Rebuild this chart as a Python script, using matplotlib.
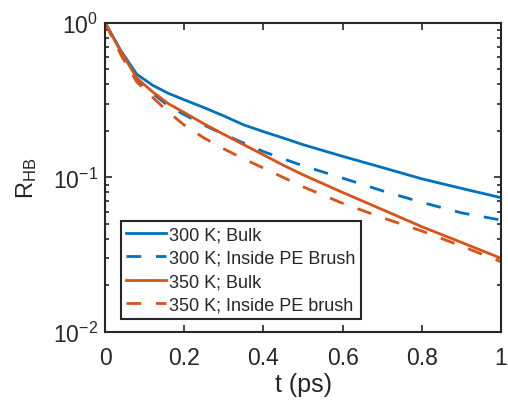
import matplotlib
matplotlib.use('Agg')
import matplotlib.pyplot as plt
from matplotlib.ticker import LogLocator, NullFormatter, FixedLocator

plt.rcParams['font.family'] = ['Liberation Sans', 'DejaVu Sans']
plt.rcParams['mathtext.default'] = 'regular'

# hydrogen bond correlation R_HB(t)
t = [0, 0.04, 0.08, 0.12, 0.16, 0.2, 0.25, 0.3, 0.35, 0.4, 0.45, 0.5, 0.6, 0.7, 0.8, 0.9, 1.0]
bulk_300 = [1.0, 0.66, 0.465, 0.395, 0.35, 0.318, 0.283, 0.25, 0.219, 0.198, 0.18, 0.163,
            0.137, 0.116, 0.098, 0.085, 0.074]
brush_300 = [1.0, 0.64, 0.43, 0.35, 0.29, 0.255, 0.218, 0.19, 0.167, 0.147, 0.132, 0.119,
             0.099, 0.082, 0.069, 0.059, 0.053]
bulk_350 = [1.0, 0.65, 0.44, 0.358, 0.3, 0.263, 0.222, 0.19, 0.163, 0.14, 0.12, 0.104,
            0.08, 0.062, 0.048, 0.038, 0.030]
brush_350 = [1.0, 0.62, 0.415, 0.33, 0.265, 0.218, 0.18, 0.153, 0.132, 0.115, 0.1, 0.087,
             0.068, 0.055, 0.045, 0.036, 0.0285]

labels = ['300 K; Bulk', '300 K; Inside PE Brush', '350 K; Bulk', '350 K; Inside PE brush']
blue = '#0072BD'
orange = '#D95319'
dark = '#262626'

fig = plt.figure(figsize=(5.08, 4.06), dpi=100)
ax = fig.add_axes([0.207, 0.18, 0.779, 0.761])

lw = 2.0
dash = (0, (5.3, 5.3))
ax.plot(t, bulk_300, color=blue, lw=lw, label=labels[0])
ax.plot(t, brush_300, color=blue, lw=lw, linestyle=dash, label=labels[1])
ax.plot(t, bulk_350, color=orange, lw=lw, label=labels[2])
ax.plot(t, brush_350, color=orange, lw=lw, linestyle=dash, label=labels[3])

ax.set_yscale('log')
ax.set_xlim(0, 1)
ax.set_ylim(1e-2, 1)
ax.xaxis.set_major_locator(FixedLocator([0, 0.2, 0.4, 0.6, 0.8, 1.0]))
ax.set_xticklabels(['0', '0.2', '0.4', '0.6', '0.8', '1'])
ax.yaxis.set_major_locator(LogLocator(base=10, numticks=5))
ax.yaxis.set_minor_locator(LogLocator(base=10, subs=range(2, 10), numticks=10))
ax.yaxis.set_minor_formatter(NullFormatter())

ax.tick_params(which='both', direction='in', top=True, right=True,
               colors=dark, labelsize=16.5, width=1.2)
ax.tick_params(which='major', length=5)
ax.tick_params(which='minor', length=3)
ax.tick_params(axis='x', which='major', pad=10)
ax.tick_params(axis='y', which='major', pad=5)
for s in ax.spines.values():
    s.set_color(dark)
    s.set_linewidth(1.5)

ax.set_xlabel('t (ps)', fontsize=18, color=dark, labelpad=2)
ax.set_ylabel('$R_{HB}$', fontsize=17, color=dark, labelpad=10)

leg = ax.legend(loc='lower left', bbox_to_anchor=(0.04, 0.042), fontsize=13,
                frameon=True, fancybox=False, edgecolor=dark, framealpha=1,
                handlelength=2.2, handletextpad=0.15, labelspacing=0.36,
                borderpad=0.3, borderaxespad=0)
leg.get_frame().set_linewidth(1.5)
for txt in leg.get_texts():
    txt.set_color(dark)

fig.savefig('out.png', dpi=100)
